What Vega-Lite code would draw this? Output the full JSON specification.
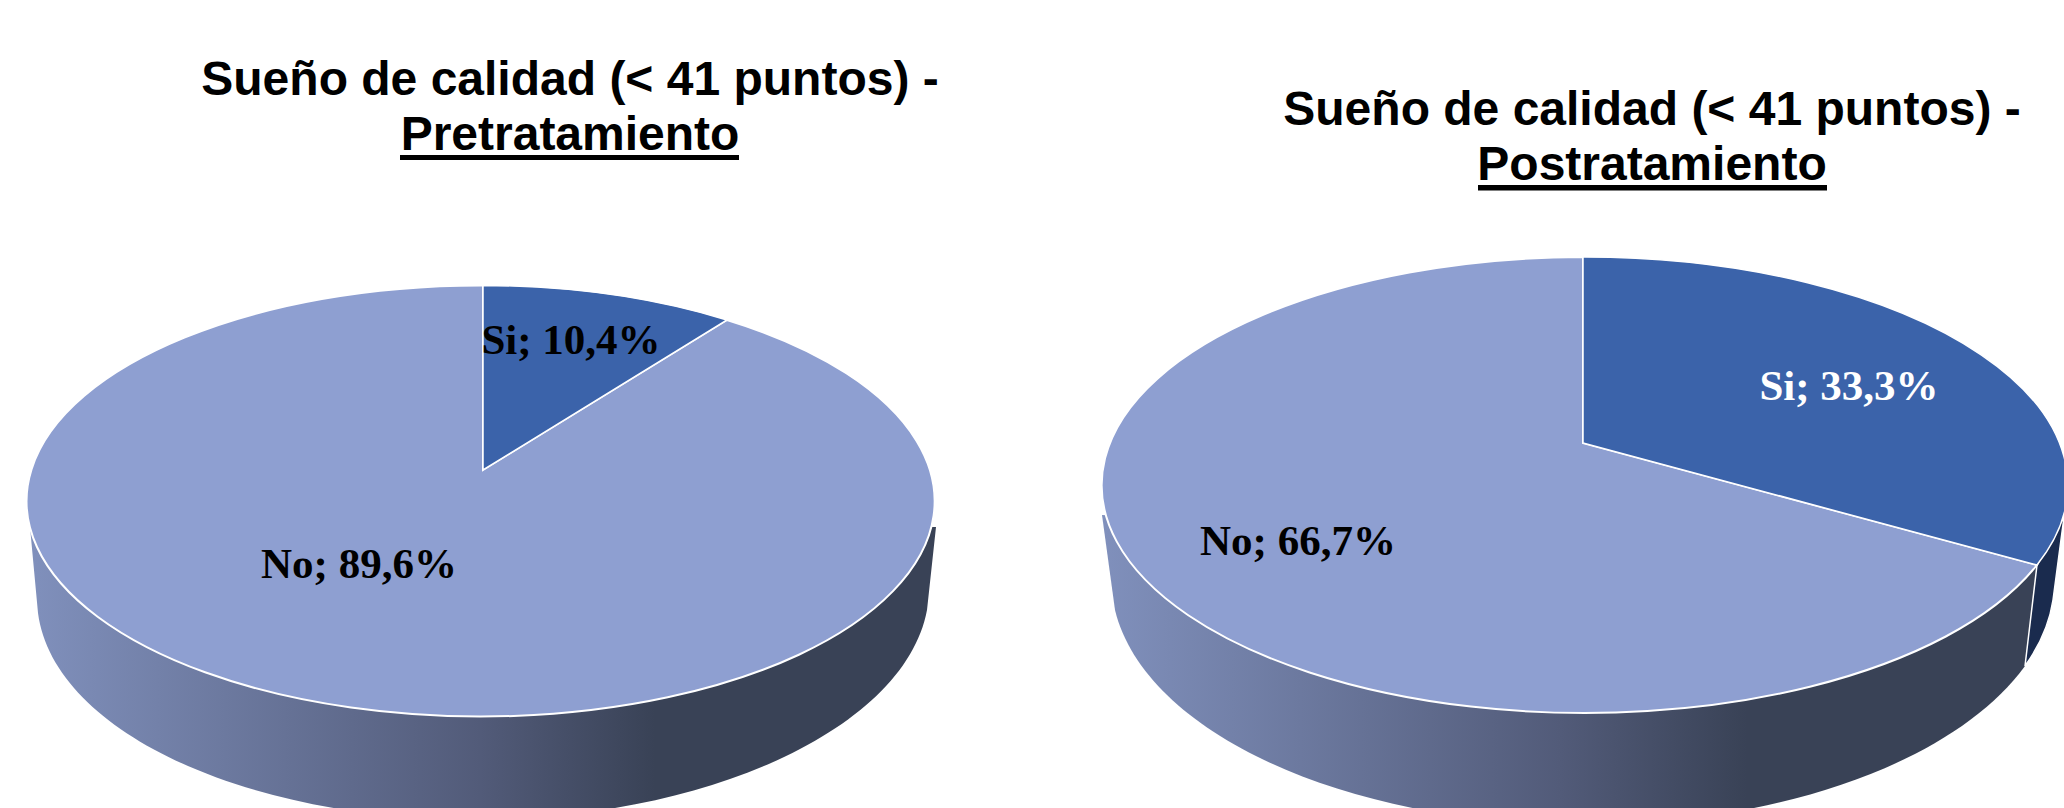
{
"$schema":"https://vega.github.io/schema/vega-lite/v6.json",
"width":2064,"height":808,"padding":0,"autosize":"none","background":"white",
"config":{"view":{"stroke":null}},
"data":{"name":"sueno","values":[
{"panel":"Pretratamiento","categoria":"Si","valor":10.4},
{"panel":"Pretratamiento","categoria":"No","valor":89.6},
{"panel":"Postratamiento","categoria":"Si","valor":33.3},
{"panel":"Postratamiento","categoria":"No","valor":66.7}]},
"transform":[{"calculate":"datum.categoria+'; '+replace(format(datum.valor,'.1f'),'.',',')+'%'","as":"etiqueta"},
{"calculate":"'Sueño de calidad (< 41 puntos) -\\n'+datum.panel","as":"titulo"}],
"encoding":{
"x":{"field":"panel","type":"nominal","axis":null,"scale":{"type":"point","domain":["Pretratamiento","Postratamiento"],"range":[483,1583],"padding":0}},
"y":{"field":"panel","type":"nominal","axis":null,"scale":{"type":"point","domain":["Pretratamiento","Postratamiento"],"range":[501,485],"padding":0}}},
"layer":[
{"transform":[{"filter":"datum.panel==='Pretratamiento'&&datum.categoria==='No'"}],
"mark":{"type":"point","filled":true,"opacity":1,"size":4,"shape":"M-453,26 L-445,112 A446,226 -0.8 0 0 444,109 L453,26 Z",
"fill":{"gradient":"linear","x1":0,"x2":1,"y1":0,"y2":0,"stops":[{"offset":0,"color":"#8090BC"},{"offset":0.497,"color":"#525B79"},{"offset":0.69,"color":"#394256"},{"offset":1,"color":"#394256"}]}}},
{"transform":[{"filter":"datum.panel==='Postratamiento'&&datum.categoria==='No'"}],
"mark":{"type":"point","filled":true,"opacity":1,"size":4,"shape":"M-481,30 L-468,125 A472,245 0 0 0 442,181 L454,80 Z",
"fill":{"gradient":"linear","x1":0,"x2":1,"y1":0,"y2":0,"stops":[{"offset":0,"color":"#8090BC"},{"offset":0.49,"color":"#525B79"},{"offset":0.69,"color":"#394256"},{"offset":1,"color":"#394256"}]}}},
{"transform":[{"filter":"datum.panel==='Postratamiento'&&datum.categoria==='Si'"}],
"mark":{"type":"point","filled":true,"opacity":1,"size":4,"fill":"#1A2B4E","stroke":"white","strokeWidth":1.5,"shape":"M454,80 L442,181 A472,245 0 0 0 470,115 L481,32 Z"}},
{"transform":[{"filter":"datum.panel==='Pretratamiento'&&datum.categoria==='No'"}],
"mark":{"type":"point","filled":true,"opacity":1,"size":4,"fill":"#8E9FD1","stroke":"white","strokeWidth":2,"shape":"M0,-31 L244,-181 A454,215.5 0 1 1 0,-215.5 Z"}},
{"transform":[{"filter":"datum.panel==='Pretratamiento'&&datum.categoria==='Si'"}],
"mark":{"type":"point","filled":true,"opacity":1,"size":4,"fill":"#3B63AA","stroke":"white","strokeWidth":1.5,"shape":"M0,-31 L0,-215.5 A454,215.5 0 0 1 244,-181 Z"}},
{"transform":[{"filter":"datum.panel==='Postratamiento'&&datum.categoria==='No'"}],
"mark":{"type":"point","filled":true,"opacity":1,"size":4,"fill":"#8E9FD1","stroke":"white","strokeWidth":2,"shape":"M0,-42 L454,80 A483,228 0 1 1 0,-228 Z"}},
{"transform":[{"filter":"datum.panel==='Postratamiento'&&datum.categoria==='Si'"}],
"mark":{"type":"point","filled":true,"opacity":1,"size":4,"fill":"#3B63AA","stroke":"white","strokeWidth":1.5,"shape":"M0,-42 L0,-228 A483,228 0 0 1 454,80 Z"}},
{"transform":[{"filter":"datum.panel==='Pretratamiento'&&datum.categoria==='Si'"}],
"mark":{"type":"text","font":"Liberation Serif","fontWeight":"bold","fontSize":43,"align":"center","baseline":"alphabetic","dx":88,"dy":-147,"fill":"black"},
"encoding":{"text":{"field":"etiqueta"}}},
{"transform":[{"filter":"datum.panel==='Pretratamiento'&&datum.categoria==='No'"}],
"mark":{"type":"text","font":"Liberation Serif","fontWeight":"bold","fontSize":43,"align":"center","baseline":"alphabetic","dx":-124,"dy":77,"fill":"black"},
"encoding":{"text":{"field":"etiqueta"}}},
{"transform":[{"filter":"datum.panel==='Postratamiento'&&datum.categoria==='Si'"}],
"mark":{"type":"text","font":"Liberation Serif","fontWeight":"bold","fontSize":43,"align":"center","baseline":"alphabetic","dx":266,"dy":-85,"fill":"white"},
"encoding":{"text":{"field":"etiqueta"}}},
{"transform":[{"filter":"datum.panel==='Postratamiento'&&datum.categoria==='No'"}],
"mark":{"type":"text","font":"Liberation Serif","fontWeight":"bold","fontSize":43,"align":"center","baseline":"alphabetic","dx":-285,"dy":70,"fill":"black"},
"encoding":{"text":{"field":"etiqueta"}}},
{"transform":[{"filter":"datum.panel==='Pretratamiento'&&datum.categoria==='Si'"}],
"mark":{"type":"text","font":"Liberation Sans","fontWeight":"bold","fontSize":48,"align":"center","baseline":"alphabetic","lineBreak":"\n","lineHeight":55,"dx":87,"dy":-406,"fill":"black"},
"encoding":{"text":{"field":"titulo"}}},
{"transform":[{"filter":"datum.panel==='Postratamiento'&&datum.categoria==='Si'"}],
"mark":{"type":"text","font":"Liberation Sans","fontWeight":"bold","fontSize":48,"align":"center","baseline":"alphabetic","lineBreak":"\n","lineHeight":55,"dx":69,"dy":-360,"fill":"black"},
"encoding":{"text":{"field":"titulo"}}},
{"transform":[{"filter":"datum.panel==='Pretratamiento'&&datum.categoria==='Si'"}],
"mark":{"type":"point","filled":true,"opacity":1,"size":4,"fill":"black","shape":"M-83,-346 L256,-346 L256,-341 L-83,-341 Z"}},
{"transform":[{"filter":"datum.panel==='Postratamiento'&&datum.categoria==='Si'"}],
"mark":{"type":"point","filled":true,"opacity":1,"size":4,"fill":"black","shape":"M-105,-300 L244,-300 L244,-294.5 L-105,-294.5 Z"}}
]}
